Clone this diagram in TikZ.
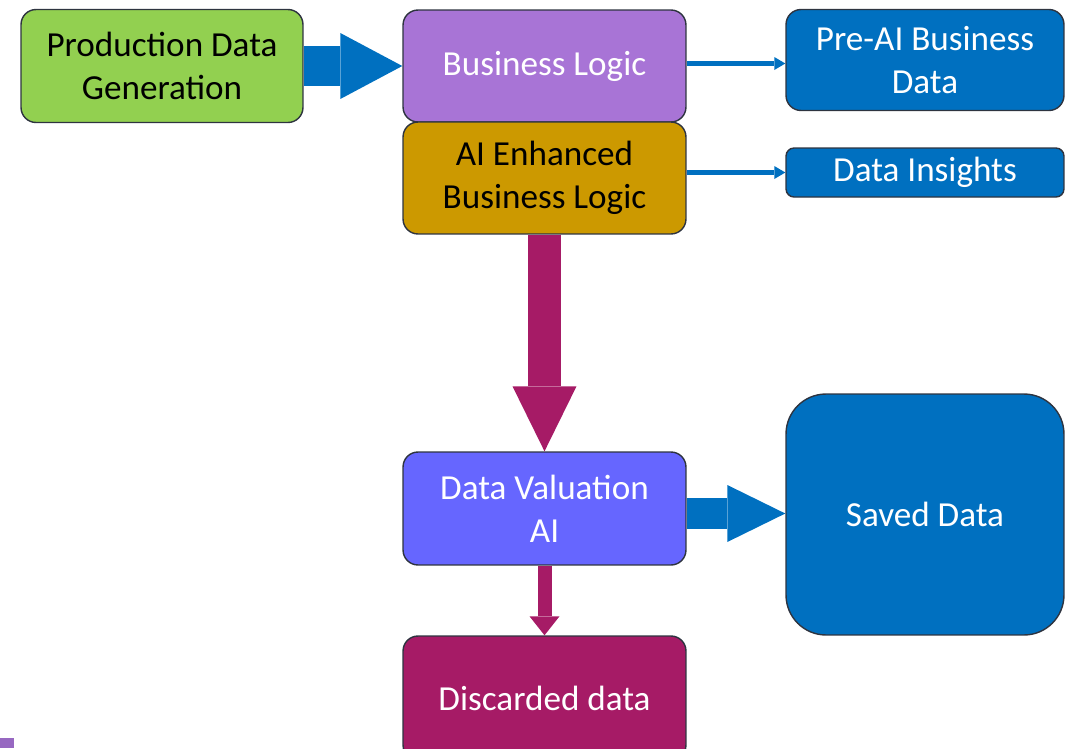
\documentclass[tikz,border=0pt]{standalone}
\usepackage{fontspec}
\setmainfont{Carlito}
\usetikzlibrary{positioning, arrows.meta, calc}
\definecolor{flowgreen}{HTML}{92D050}
\definecolor{flowpurple}{HTML}{A874D6}
\definecolor{flowgold}{HTML}{CC9900}
\definecolor{flowblue}{HTML}{0070C0}
\definecolor{flowviolet}{HTML}{6666FF}
\definecolor{flowmaroon}{HTML}{A61B66}
\definecolor{flowedge}{HTML}{2E3440}

\begin{document}
\begin{tikzpicture}[
    x=0.02cm, y=-0.02cm,
    every node/.style={font=\fontsize{20}{24.5}\selectfont},
    box/.style={draw=flowedge, line width=0.8pt, rounded corners=0.3cm,
                minimum width=5.66cm, minimum height=2.26cm, align=center,
                inner sep=2pt, text=white},
    link/.style={flowblue, line width=0.09cm,
                 -{Triangle[length=0.22cm, width=0.26cm, line width=0pt]}},
    fatarrow/.style n args={3}{line width=#1,
                 -{Triangle[length=#2, width=#3, line width=0pt]}},
  ]
  \useasboundingbox (0,0) rectangle (1066,748);

  \node[box, fill=flowgreen, text=black, minimum width=5.64cm] (gen) at (162,66)
    {Production Data\\Generation};
  \node[box, fill=flowpurple, minimum height=2.24cm] (logic) at (544.5,66)
    {Business Logic};
  \node[box, fill=flowgold, text=black, minimum height=2.24cm] (aibl) at (544.5,178)
    {AI Enhanced\\Business Logic};
  \node[box, fill=flowblue, minimum width=5.56cm, minimum height=2.02cm] (preai) at (925,60)
    {Pre-AI Business\\Data};
  \node[box, fill=flowblue, minimum width=5.56cm, minimum height=0.98cm,
        rounded corners=0.16cm] (insights) at (925,172.5) {Data Insights};

  \node[box, fill=flowviolet] (valuation) at (544.5,508.5) {Data Valuation\\AI};
  \node[box, fill=flowblue, minimum width=5.56cm, minimum height=4.82cm,
        rounded corners=0.8cm] (saved) at (925,514.5) {Saved Data};
  \node[box, fill=flowmaroon, minimum height=2.48cm] (discard) at (544.5,698)
    {Discarded data};

  % flows
  \draw[flowblue, fatarrow={0.8cm}{1.24cm}{1.32cm}] (gen) -- (logic);
  \draw[link] ([yshift=0.05cm]logic.east) -- ([yshift=0.05cm]logic.east -| preai.west);
  \draw[link] (insights.west -| aibl.east) -- (insights.west);
  \draw[flowmaroon, fatarrow={0.66cm}{1.3cm}{1.28cm}] (aibl) -- (valuation);
  \draw[flowblue, fatarrow={0.62cm}{1.16cm}{1.14cm}]
    ([yshift=-0.1cm]valuation.east) -- ([yshift=-0.1cm]valuation.east -| saved.west);
  \draw[flowmaroon, fatarrow={0.28cm}{0.38cm}{0.6cm}] (valuation) -- (discard);

  \fill[flowpurple!90!black] (0,738) rectangle (14,748);
\end{tikzpicture}
\end{document}
